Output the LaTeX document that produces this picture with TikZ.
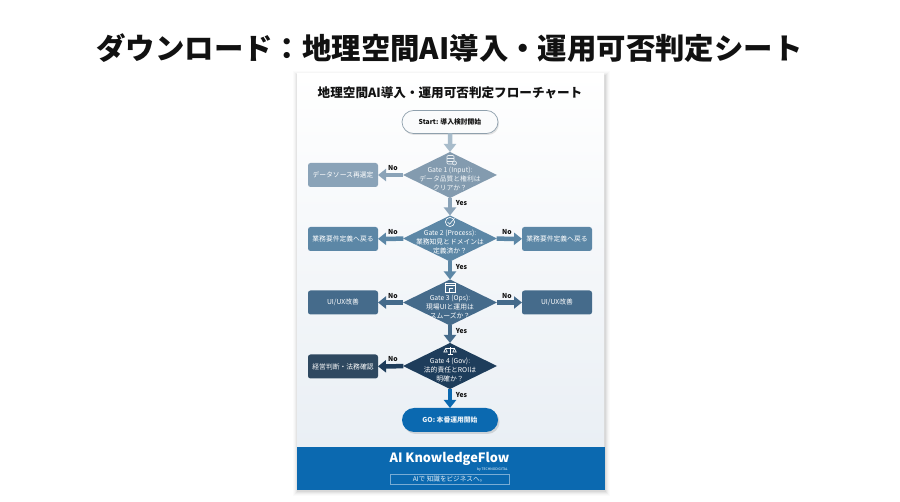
\documentclass[tikz,border=0pt]{standalone}
\usepackage{fontspec}
\setmainfont{Noto Sans CJK JP}
\usetikzlibrary{shapes.geometric,shapes.misc,arrows.meta,calc}
\definecolor{ink}{HTML}{111111}
\definecolor{cA}{HTML}{8AA3B8}
\definecolor{cAa}{HTML}{A8BCCB}
\definecolor{cB}{HTML}{5C87A6}
\definecolor{cC}{HTML}{456B8B}
\definecolor{cD}{HTML}{1E3D5B}
\definecolor{cDb}{HTML}{2E4860}
\definecolor{cE}{HTML}{0B69B0}
\definecolor{cardlow}{HTML}{E7EDF3}
\tikzset{
  gate/.style={diamond,draw=none,fill=#1,minimum width=94pt,minimum height=46pt,aspect=2.04,inner sep=0pt,outer sep=0pt},
  pillbox/.style={rounded rectangle,minimum width=96pt,minimum height=23pt,inner sep=0pt,outer sep=0pt},
  actbox/.style={rectangle,rounded corners=2.5pt,fill=#1,minimum width=70pt,minimum height=24pt,inner sep=0pt,outer sep=0pt,text=white,font=\fontsize{6.8}{8}\selectfont},
  flow/.style={draw=#1,line width=4.5pt,-{Triangle[width=12pt,length=8pt,fill=#1]},shorten >=0pt},
  gatetext/.style={text=white,align=center,font=\fontsize{6.8}{9}\selectfont,inner sep=0pt},
  lab/.style={text=ink,font=\fontsize{6.8}{8}\selectfont\bfseries,inner sep=0pt},
  icon/.style={draw=white,line width=.6pt,fill=none}
}
\begin{document}
\begin{tikzpicture}[x=1pt,y=-1pt]
\useasboundingbox (0,0) rectangle (900,502);
\fill[white] (0,0) rectangle (900,502);
% title
\node[font=\fontsize{29.4}{32}\selectfont\bfseries,text=ink,inner sep=0pt] (title) at (449.5,48) {ダウンロード：地理空間AI導入・運用可否判定シート};
% card with soft shadow
\foreach \d/\o in {5/.015,4/.02,3/.03,2/.04,1/.05}
  \fill[black,opacity=\o] (297-\d+1,74-\d+2) rectangle (604+\d+1,490+\d+1);
\shade[top color=white,bottom color=cardlow] (297,74) rectangle (604,490);
\fill[cE] (296.5,447) rectangle (604.5,490);
\node[font=\fontsize{12.6}{14}\selectfont\bfseries,text=ink,inner sep=0pt] (cardtitle) at (450,93) {地理空間AI導入・運用可否判定フローチャート};
% nodes
\fill[black,opacity=.10,rounded corners=11pt] (403,112.5) rectangle (499,135);
\node[pillbox,draw=cAa!85!black,line width=.7pt,fill=white!96!cA,text=ink,font=\fontsize{6.8}{8}\selectfont\bfseries] (start) at (450,122) {Start: 導入検討開始};
\node[gate=cA!95!black] (g1) at (450,175) {};
\node[gate=cB] (g2) at (450,238.5) {};
\node[gate=cC] (g3) at (450,302.5) {};
\node[gate=cD] (g4) at (450,366) {};
\fill[black,opacity=.12,rounded corners=12pt] (403.5,410) rectangle (499.5,434);
\node[pillbox,fill=cE,text=white!90!cE,minimum height=24pt,font=\fontsize{6.8}{8}\selectfont\bfseries] (go) at (450,420) {GO: 本番運用開始};
\node[actbox=cA] (b1) at (343,175) {データソース再選定};
\node[actbox=cB] (b2l) at (343,239) {業務要件定義へ戻る};
\node[actbox=cB] (b2r) at (557,239) {業務要件定義へ戻る};
\node[actbox=cC] (b3l) at (343,302.5) {UI/UX改善};
\node[actbox=cC] (b3r) at (557,302.5) {UI/UX改善};
\node[actbox=cDb] (b4) at (343,366.5) {経営判断・法務確認};
% connectors
\draw[flow=cAa] (start) -- (g1);
\draw[flow=cA] (g1) -- (b1);
\draw[flow=cA] (g1) -- (g2);
\draw[flow=cB] (g2) -- (b2l);
\draw[flow=cB] (g2) -- (b2r);
\draw[flow=cB] (g2) -- (g3);
\draw[flow=cC] (g3) -- (b3l);
\draw[flow=cC] (g3) -- (b3r);
\draw[flow=cC] (g3) -- (g4);
\draw[flow=cD] (g4) -- (b4);
\draw[flow=cE] (g4) -- (go);
% diamond texts
\node[gatetext,text=white!90!cA] (t1) at (450,178.5) {Gate 1 (Input):\\データ品質と権利は\\クリアか？};
\node[gatetext] (t2) at (450,242.5) {Gate 2 (Process):\\業務知見とドメインは\\定義済か？};
\node[gatetext] (t3) at (450,306.5) {Gate 3 (Ops):\\現場UIと運用は\\スムーズか？};
\node[gatetext] (t4) at (450,370) {Gate 4 (Gov):\\法的責任とROIは\\明確か？};
% labels
\node[lab] (n1) at (393,168) {No};
\node[lab] (y1) at (461.5,203) {Yes};
\node[lab] (n2) at (393,232) {No};
\node[lab] (n2r) at (507,232) {No};
\node[lab] (y2) at (461.5,267) {Yes};
\node[lab] (n3) at (393,296) {No};
\node[lab] (n3r) at (507,296) {No};
\node[lab] (y3) at (461.5,331) {Yes};
\node[lab] (n4) at (393,359.5) {No};
\node[lab] (y4) at (461.5,395) {Yes};
% icons
\draw[icon,draw=white!85!cA,rounded corners=1pt] (447,155.5) rectangle (454,164);
\draw[icon,draw=white!85!cA] (447,158.5) -- (454,158.5) (447,161.3) -- (454,161.3);
\draw[icon,draw=white!85!cA,fill=cA] (454.5,163) circle (2pt);
\draw[icon] (450,222) circle (4.6pt);
\draw[icon] (447.6,222) -- (449.6,224.2) -- (454.5,218.4);
\draw[icon] (445,283.5) rectangle (455,292);
\draw[icon] (445,285.8) -- (455,285.8) (449,292) -- (449,288) -- (453,288);
\draw[icon] (450,347) -- (450,354) (447.5,354) -- (452.5,354) (445.5,348.5) -- (454.5,348.5);
\draw[icon] (445.5,348.5) -- (443.8,352) -- (447.2,352) -- cycle;
\draw[icon] (454.5,348.5) -- (452.8,352) -- (456.2,352) -- cycle;
% footer
\node[font=\fontsize{12.8}{16}\selectfont\bfseries,text=white,inner sep=0pt] (brand) at (449.5,459) {AI KnowledgeFlow};
\node[font=\fontsize{3.4}{4}\selectfont,text=white,anchor=east,inner sep=0pt] (by) at (508,470) {by TECHNODIGITAL};
\node[draw=white!45!cE,line width=.5pt,minimum width=119pt,minimum height=9.5pt,inner sep=0pt,text=white!90!cE,font=\fontsize{6.6}{7}\selectfont] (tag) at (449.5,479.5) {AIで 知識をビジネスへ。};
\end{tikzpicture}
\end{document}
